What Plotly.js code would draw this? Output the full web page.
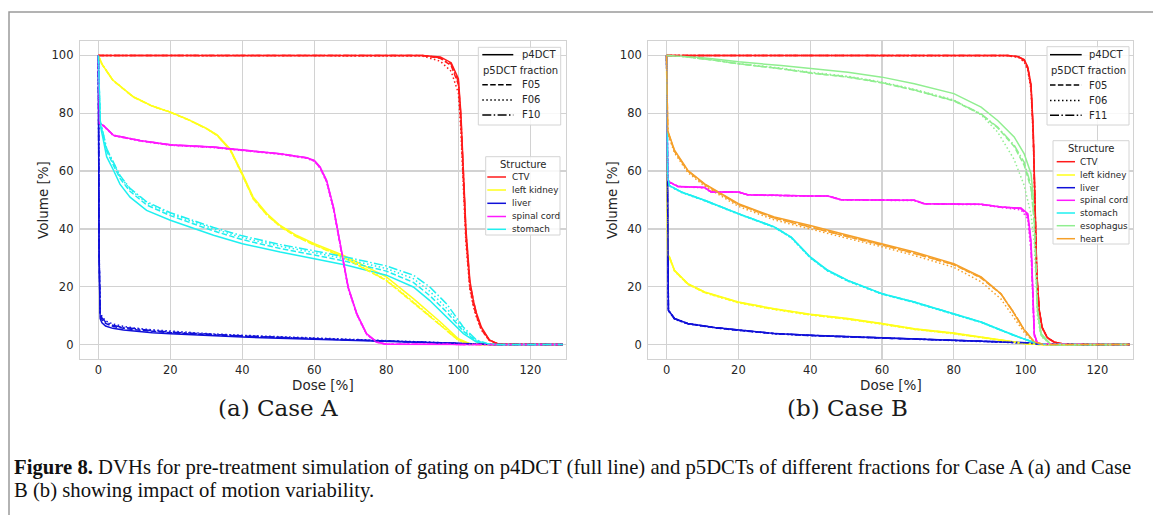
<!DOCTYPE html>
<html>
<head>
<meta charset="utf-8">
<script src="https://cdn.plot.ly/plotly-3.0.1.min.js"></script>
<style>html,body{margin:0;padding:0;background:#fff;}#chart{width:1153px;height:515px;}</style>
</head>
<body>
<div id="chart"></div>
<script>
// ---------------- DATA ----------------
const fractionsA = ['p4DCT', 'F05', 'F06', 'F10'];
const fractionsB = ['p4DCT', 'F05', 'F06', 'F11'];
const structuresA = ['CTV', 'left kidney', 'liver', 'spinal cord', 'stomach'];
const structuresB = ['CTV', 'left kidney', 'liver', 'spinal cord', 'stomach', 'esophagus', 'heart'];
const xTicks = [0, 20, 40, 60, 80, 100, 120];
const yTicks = [0, 20, 40, 60, 80, 100];

// Case A  (dose [%] grid per structure, volumes [%] per fraction: p4DCT, F05, F06, F10)
const doseA_ctv = [0, 90, 95, 98, 100, 100.7, 101.4, 102.1, 103.2, 104.2, 105, 106.4, 108.6, 111, 129];
const volA_ctv = [
  [100, 100, 99.5, 97.5, 92, 80, 60, 40, 22, 15, 11, 6, 1.6, 0.2, 0],
  [100, 100, 99, 96.5, 90, 77, 57, 37, 20, 13.5, 10, 5.2, 1.4, 0.2, 0],
  [100, 99.8, 98, 94.5, 87, 74, 54, 35, 19, 13, 9.5, 5, 1.5, 0.2, 0],
  [100, 100, 99.2, 97, 91, 79, 59, 39, 21, 14.5, 10.5, 5.5, 1.6, 0.2, 0]
];
const doseA_kidney = [0, 1, 4, 9.7, 15, 20, 25, 30, 33, 36.6, 40, 43, 46.8, 50.5, 55, 60, 68, 74.5, 80, 87.5, 95, 100, 103.2, 106, 129];
const volA_kidney = [
  [100, 97, 91.5, 85.7, 82.5, 80.4, 77.8, 74.8, 72.5, 67.7, 59.1, 51, 45.3, 41.2, 37.8, 34.9, 30.9, 26.8, 23.4, 15.9, 7.8, 2, 0.3, 0, 0],
  [100, 97, 91.4, 85.6, 82.4, 80.3, 77.7, 74.7, 72.3, 67.3, 58.6, 50.4, 44.8, 40.8, 37.3, 34.4, 30.2, 25.8, 22.1, 14.4, 6.6, 1.5, 0.2, 0, 0],
  [100, 97, 91.5, 85.7, 82.5, 80.4, 77.8, 74.8, 72.4, 67.5, 58.8, 50.6, 45, 41, 37.5, 34.6, 30.4, 26, 22.4, 14.8, 6.9, 1.6, 0.2, 0, 0],
  [100, 97, 91.5, 85.7, 82.5, 80.4, 77.8, 74.7, 72.3, 67.4, 58.7, 50.5, 44.9, 40.9, 37.4, 34.5, 30.3, 25.9, 22.2, 14.6, 6.7, 1.5, 0.2, 0, 0]
];
const doseA_liver = [0, 0.2, 0.5, 1, 2, 4, 7, 10, 15, 20, 30, 40, 50, 60, 70, 80, 90, 100, 105, 110, 129];
const volA_liver = [
  [100, 30, 9, 7.5, 6.4, 5.6, 5, 4.6, 4.1, 3.7, 3.1, 2.6, 2.2, 1.8, 1.4, 1.1, 0.7, 0.35, 0.15, 0, 0],
  [100, 32, 10, 8.6, 7.3, 6.3, 5.6, 5.1, 4.6, 4.1, 3.4, 2.9, 2.4, 2.0, 1.6, 1.2, 0.8, 0.4, 0.15, 0, 0],
  [100, 34, 11, 9.8, 8.2, 7.1, 6.3, 5.7, 5.1, 4.6, 3.8, 3.2, 2.7, 2.2, 1.8, 1.4, 0.9, 0.45, 0.2, 0, 0],
  [100, 33, 10.5, 9.2, 7.8, 6.7, 5.9, 5.4, 4.8, 4.3, 3.6, 3.0, 2.5, 2.1, 1.7, 1.3, 0.85, 0.4, 0.15, 0, 0]
];
const doseA_cord = [0, 0.3, 1.4, 4.2, 11.6, 20, 32, 40, 50.5, 57.9, 60, 61.6, 63.4, 65.3, 66.7, 68.1, 69.4, 71.8, 74.5, 77.3, 80, 129];
const volA_cord = [
  [100, 76.5, 75.8, 72.4, 70.6, 69.1, 68.3, 67.4, 66, 64.6, 63.7, 61.4, 56.8, 47.6, 38.4, 29.1, 19.9, 10.7, 3.8, 0.9, 0.1, 0],
  [100, 76.5, 75.7, 72.3, 70.5, 69.0, 68.2, 67.3, 65.9, 64.5, 63.5, 61.1, 56.4, 47.1, 37.9, 28.7, 19.5, 10.4, 3.6, 0.8, 0.1, 0],
  [100, 76.4, 75.6, 72.2, 70.4, 68.9, 68.1, 67.2, 65.8, 64.4, 63.4, 61.0, 56.2, 46.9, 37.7, 28.5, 19.3, 10.2, 3.5, 0.8, 0.1, 0],
  [100, 76.5, 75.8, 72.4, 70.6, 69.1, 68.3, 67.4, 66, 64.6, 63.6, 61.3, 56.6, 47.4, 38.2, 28.9, 19.7, 10.6, 3.7, 0.9, 0.1, 0]
];
const doseA_stomach = [0, 0.5, 1.4, 2.3, 4.2, 6, 8.8, 13.4, 20, 32, 40, 50.5, 60, 69, 80, 87.5, 92, 96.8, 101.4, 105, 108, 111, 129];
const volA_stomach = [
  [100, 76, 70.6, 65, 60.3, 55.5, 51, 46.4, 43, 37.8, 34.9, 32, 29.7, 27.4, 24, 19.9, 15.3, 9.6, 3.8, 0.9, 0.2, 0, 0],
  [100, 77, 72, 67, 62, 57.5, 53, 48.3, 44.6, 39.3, 36.3, 33.2, 31, 28.7, 25.4, 21.5, 17, 11.2, 4.6, 1.2, 0.3, 0, 0],
  [100, 77.5, 72.5, 67.5, 62.8, 58.2, 53.7, 49, 45.2, 40, 37, 34, 31.8, 29.5, 26.3, 22.8, 18.5, 12.5, 5.2, 1.4, 0.3, 0, 0],
  [100, 77.5, 72.8, 67.8, 63, 58.5, 54, 49.4, 45.6, 40.5, 37.6, 34.6, 32.4, 30.2, 27.2, 24, 20, 14, 6, 1.6, 0.4, 0, 0]
];

// Case B (volumes per fraction: p4DCT, F05, F06, F11)
const doseB_ctv = [0, 95, 98, 99.6, 100.6, 101.5, 102.1, 102.6, 103.1, 103.8, 104.6, 106, 108, 111, 129];
const volB_ctv = [
  [100, 100, 99.6, 98.6, 96, 90, 75, 50, 25, 12, 6, 2.5, 0.8, 0.1, 0],
  [100, 100, 99.5, 98.3, 95.5, 89, 73, 48, 24, 11.5, 5.8, 2.4, 0.8, 0.1, 0],
  [100, 99.9, 99.3, 97.8, 94.8, 88, 72, 47, 23.5, 11.2, 5.6, 2.3, 0.7, 0.1, 0],
  [100, 100, 99.5, 98.4, 95.7, 89.5, 74, 49, 24.5, 11.8, 5.9, 2.4, 0.8, 0.1, 0]
];
const doseB_kidney = [0, 0.3, 0.8, 2.2, 5.9, 10.6, 20, 30, 40, 50.5, 60, 69, 80, 87.6, 95, 100, 104, 129];
const volB_kidney = [
  [100, 31, 30.3, 25.7, 21.1, 18.2, 14.7, 12.4, 10.5, 9, 7.3, 5.5, 4, 2.6, 1.3, 0.3, 0, 0],
  [100, 31, 30.1, 25.5, 20.9, 18.0, 14.5, 12.2, 10.3, 8.8, 7.1, 5.3, 3.8, 2.4, 1.2, 0.3, 0, 0],
  [100, 30.8, 30.0, 25.4, 20.8, 17.9, 14.4, 12.1, 10.2, 8.7, 7.0, 5.2, 3.7, 2.3, 1.1, 0.2, 0, 0],
  [100, 31, 30.2, 25.6, 21.0, 18.1, 14.6, 12.3, 10.4, 8.9, 7.2, 5.4, 3.9, 2.5, 1.2, 0.3, 0, 0]
];
const doseB_liver = [0, 0.2, 0.5, 2.2, 5.9, 13.4, 20, 30, 40, 60, 80, 95, 100, 104, 129];
const volB_liver = [
  [100, 40, 11.9, 9, 7.3, 5.9, 5, 3.8, 3.2, 2.3, 1.5, 0.9, 0.6, 0.1, 0],
  [100, 40, 11.8, 8.9, 7.2, 5.8, 4.9, 3.8, 3.1, 2.2, 1.5, 0.9, 0.5, 0.1, 0],
  [100, 40, 11.7, 8.8, 7.1, 5.8, 4.9, 3.7, 3.1, 2.2, 1.4, 0.8, 0.5, 0.1, 0],
  [100, 40, 11.9, 9, 7.3, 5.9, 5, 3.8, 3.2, 2.3, 1.5, 0.9, 0.6, 0.1, 0]
];
const doseB_cord = [0, 0.3, 0.8, 3.2, 10.6, 12.4, 20, 22.6, 40, 44.9, 48.6, 60, 69, 71.8, 87.6, 93.1, 98.7, 100.6, 101.5, 102, 102.4, 103.3, 129];
const volB_cord = [
  [100, 57, 56.2, 54.7, 54.3, 52.8, 52.8, 51.8, 51.4, 51.4, 50.1, 50.1, 49.9, 48.7, 48.5, 47.6, 47.2, 45.3, 36, 18.8, 3.8, 0.3, 0],
  [100, 57, 56.2, 54.7, 54.3, 52.8, 52.8, 51.8, 51.4, 51.4, 50.1, 50.1, 49.9, 48.7, 48.5, 47.6, 47.0, 44.5, 34, 17, 3.2, 0.3, 0],
  [100, 57, 56.1, 54.6, 54.2, 52.7, 52.7, 51.7, 51.3, 51.3, 50.0, 50.0, 49.8, 48.6, 48.4, 47.4, 46.6, 43.5, 32, 16, 3, 0.3, 0],
  [100, 57, 56.2, 54.7, 54.3, 52.8, 52.8, 51.8, 51.4, 51.4, 50.1, 50.1, 49.9, 48.7, 48.5, 47.6, 47.1, 44.8, 35, 18, 3.5, 0.3, 0]
];
const doseB_stomach = [0, 0.3, 0.8, 4.1, 10.6, 20, 30, 34.7, 40, 44.9, 50.5, 60, 69, 80, 87.6, 96.8, 103.3, 106, 129];
const volB_stomach = [
  [100, 58, 55, 52.8, 49.9, 45.3, 40.7, 37.2, 30.3, 25.7, 22.2, 17.6, 14.7, 10.7, 7.8, 3.2, 0.3, 0, 0],
  [100, 58, 55, 52.7, 49.8, 45.2, 40.6, 37, 30.1, 25.5, 22, 17.5, 14.6, 10.6, 7.7, 3.1, 0.3, 0, 0],
  [100, 57.8, 54.8, 52.6, 49.7, 45.1, 40.5, 36.9, 30, 25.4, 21.9, 17.4, 14.5, 10.5, 7.6, 3.1, 0.3, 0, 0],
  [100, 58, 55, 52.8, 49.9, 45.3, 40.7, 37.1, 30.2, 25.6, 22.1, 17.6, 14.7, 10.7, 7.8, 3.2, 0.3, 0, 0]
];
const doseB_esophagus = [0, 5, 13.4, 20, 31.9, 40, 50.5, 60, 69, 80, 87.6, 92.2, 96.8, 99.6, 101.5, 102.4, 102.9, 103.3, 104.3, 107, 129];
const volB_esophagus = [
  [100, 99.8, 98.8, 97.8, 96.5, 95.4, 94.2, 92.5, 90.2, 86.8, 82.1, 77.5, 71.8, 66, 59.1, 47.6, 30.3, 13, 3.8, 0, 0],
  [100, 99.6, 98.3, 97.1, 95.4, 93.9, 92.5, 90.5, 88, 84.3, 79.6, 75, 68.5, 62, 54, 42, 27, 11.5, 3.2, 0, 0],
  [100, 99.6, 98.4, 97.2, 95.6, 94.2, 92.8, 90.8, 88.3, 84.6, 79.5, 73.5, 64, 55, 45, 35, 22, 9.5, 2.8, 0, 0],
  [100, 99.6, 98.3, 97.1, 95.4, 94, 92.6, 90.6, 88.1, 84.4, 79.8, 75.2, 69, 63, 55, 43, 28, 12, 3.4, 0, 0]
];
const doseB_heart = [0, 0.3, 2.2, 5.9, 10.6, 20, 30, 40, 50.5, 60, 69, 80, 87.6, 93.1, 96.8, 99.6, 102.4, 105, 129];
const volB_heart = [
  [100, 74, 67.2, 60.3, 55.6, 48.7, 44.1, 41.2, 37.8, 34.9, 32, 28, 23.4, 17.6, 10.7, 5, 0.9, 0, 0],
  [100, 73.5, 66.8, 60, 55.3, 48.4, 43.7, 40.7, 37.3, 34.4, 31.5, 27.6, 23, 17.5, 10.8, 5.1, 0.9, 0, 0],
  [100, 73, 66.3, 59.5, 54.8, 47.8, 43.1, 40.1, 36.7, 33.8, 30.8, 26.7, 21.7, 15.8, 9.3, 4.2, 0.7, 0, 0],
  [100, 73.8, 67, 60.1, 55.4, 48.5, 43.8, 40.8, 37.4, 34.5, 31.6, 27.7, 23.2, 17.6, 10.9, 5.2, 0.9, 0, 0]
];

// ---------------- STYLE ----------------
const colorOf = {
  'CTV': '#ff1a1a', 'left kidney': '#ffff1a', 'liver': '#1010d8', 'spinal cord': '#ff19ff',
  'stomach': '#1ef0f0', 'esophagus': '#90ee90', 'heart': '#f5a02a'
};
const dashes = ['solid', '5.5px,2.4px', '1.5px,2.5px', '9px,2.4px,1.5px,2.4px'];

const caseA = [[doseA_ctv, volA_ctv], [doseA_kidney, volA_kidney], [doseA_liver, volA_liver], [doseA_cord, volA_cord], [doseA_stomach, volA_stomach]];
const caseB = [[doseB_ctv, volB_ctv], [doseB_kidney, volB_kidney], [doseB_liver, volB_liver], [doseB_cord, volB_cord], [doseB_stomach, volB_stomach], [doseB_esophagus, volB_esophagus], [doseB_heart, volB_heart]];

const traces = [];
function addCase(caseData, structs, fracs, xa, ya) {
  fracs.forEach((f, fi) => {
    caseData.forEach((sd, si) => {
      traces.push({
        type: 'scatter', mode: 'lines', x: sd[0], y: sd[1][fi], xaxis: xa, yaxis: ya,
        name: structs[si] + ' ' + f, showlegend: false,
        line: {color: colorOf[structs[si]], width: 1.5, dash: dashes[fi]}
      });
    });
  });
}
addCase(caseA, structuresA, fractionsA, 'x', 'y');
addCase(caseB, structuresB, fractionsB, 'x2', 'y2');

// Pixel -> paper helpers (plot area spans px 80..1133, py 41..359)
const L = 80, R = 1133, T = 41, B = 359;
const X = px => (px - L) / (R - L);
const Y = py => (B - py) / (B - T);

const shapes = [];
const annotations = [];
const txt = '#262626';

// Figure frame
shapes.push({type: 'rect', xref: 'paper', yref: 'paper', x0: X(9), x1: X(1165), y0: Y(12), y1: Y(540),
  line: {color: '#9a9a9a', width: 1.5}, fillcolor: 'rgba(0,0,0,0)', layer: 'below'});

function legendBox(x0, x1, y0, y1) {
  shapes.push({type: 'rect', xref: 'paper', yref: 'paper', x0: X(x0), x1: X(x1), y0: Y(y0), y1: Y(y1),
    line: {color: '#d4d4d4', width: 1}, fillcolor: 'rgba(255,255,255,0.85)', layer: 'above'});
}
function legendLine(x0, x1, py, color, dash) {
  shapes.push({type: 'line', xref: 'paper', yref: 'paper', x0: X(x0), x1: X(x1), y0: Y(py), y1: Y(py),
    line: {color: color, width: 1.5, dash: dash}, layer: 'above'});
}
function label(px, py, text, size, anchor, angle) {
  annotations.push({xref: 'paper', yref: 'paper', x: X(px), y: Y(py), text: text, showarrow: false,
    xanchor: anchor || 'left', yanchor: 'middle', textangle: angle || 0, borderpad: 0,
    font: {family: 'DejaVu Sans', size: size, color: txt}});
}

function styleLegend(fracs, box, lineX0, lineX1, textX, headerX, rows) {
  legendBox(box[0], box[1], box[2], box[3]);
  legendLine(lineX0, lineX1, rows[0], '#000', dashes[0]);
  label(textX, rows[0], fracs[0], 10);
  label(headerX, rows[1], 'p5DCT fraction', 10);
  for (let i = 1; i < fracs.length; i++) {
    legendLine(lineX0, lineX1, rows[i + 1], '#000', dashes[i]);
    label(textX, rows[i + 1], fracs[i], 10);
  }
}
function structLegend(structs, box, titleX, titleY, lineX0, lineX1, textX, rows) {
  legendBox(box[0], box[1], box[2], box[3]);
  label(titleX, titleY, 'Structure', 10, 'center');
  structs.forEach((s, i) => {
    legendLine(lineX0, lineX1, rows[i], colorOf[s], 'solid');
    label(textX, rows[i], s, 8.8);
  });
}

styleLegend(fractionsA, [478.3, 560.7, 47.3, 125], 482.3, 513.3, 520.5, 481.5, [54.7, 70, 84.7, 100, 115]);
structLegend(structuresA, [485.7, 560, 156.7, 235], 523.5, 164, 487.3, 506, 510.5, [177, 190, 203.3, 216.5, 229.3]);
styleLegend(fractionsB, [1047, 1129, 46.7, 125], 1050, 1081.7, 1088, 1050, [54.7, 70, 85, 100.5, 115.3]);
structLegend(structuresB, [1053, 1129, 140.7, 244], 1091.5, 148, 1056.7, 1075, 1079, [161.7, 175, 187.7, 200.3, 213, 225.7, 238.7]);

// Axis titles
label(323, 385, 'Dose [%]', 13.5, 'center');
label(891, 385, 'Dose [%]', 13.5, 'center');
label(43, 200, 'Volume [%]', 13.5, 'center', -90);
label(612, 200, 'Volume [%]', 13.5, 'center', -90);

// Sub-captions
annotations.push({xref: 'paper', yref: 'paper', x: X(278), y: Y(408), text: '(a) Case A', showarrow: false, borderpad: 0,
  xanchor: 'center', yanchor: 'middle', font: {family: 'DejaVu Serif', size: 23, color: '#1a1a1a'}});
annotations.push({xref: 'paper', yref: 'paper', x: X(847), y: Y(408), text: '(b) Case B', showarrow: false, borderpad: 0,
  xanchor: 'center', yanchor: 'middle', font: {family: 'DejaVu Serif', size: 23, color: '#1a1a1a'}});

// Figure caption
annotations.push({xref: 'paper', yref: 'paper', x: X(12), y: Y(467), showarrow: false, xanchor: 'left', yanchor: 'middle',
  text: '<b>Figure 8.</b> DVHs for pre-treatment simulation of gating on p4DCT (full line) and p5DCTs of different fractions for Case A (a) and Case',
  font: {family: 'Liberation Serif', size: 20.7, color: '#111'}});
annotations.push({xref: 'paper', yref: 'paper', x: X(12), y: Y(491), showarrow: false, xanchor: 'left', yanchor: 'middle',
  text: 'B (b) showing impact of motion variability.',
  font: {family: 'Liberation Serif', size: 20.7, color: '#111'}});

const axisCommon = {
  showgrid: true, gridcolor: '#d2d2d2', gridwidth: 1.2, zeroline: false,
  showline: true, linecolor: '#d2d2d2', linewidth: 1.2, mirror: true,
  ticks: 'outside', tickcolor: 'rgba(0,0,0,0)',
  tickfont: {family: 'DejaVu Sans', size: 11.5, color: txt}
};
const xCommon = Object.assign({}, axisCommon, {range: [-5.1, 129.9], tickmode: 'array', tickvals: xTicks, ticklen: 0});
const yCommon = Object.assign({}, axisCommon, {range: [-5, 105], tickmode: 'array', tickvals: yTicks, domain: [0, 1], ticklen: 3});

const layout = {
  width: 1153, height: 515,
  margin: {l: L, r: 1153 - R, t: T, b: 515 - B},
  paper_bgcolor: '#ffffff', plot_bgcolor: '#ffffff',
  showlegend: false,
  xaxis: Object.assign({}, xCommon, {domain: [0, X(566)], anchor: 'y'}),
  xaxis2: Object.assign({}, xCommon, {domain: [X(648.3), 1], anchor: 'y2'}),
  yaxis: Object.assign({}, yCommon, {anchor: 'x'}),
  yaxis2: Object.assign({}, yCommon, {anchor: 'x2'}),
  shapes: shapes,
  annotations: annotations
};

Plotly.newPlot('chart', traces, layout, {displayModeBar: false, staticPlot: true});
</script>
</body>
</html>
